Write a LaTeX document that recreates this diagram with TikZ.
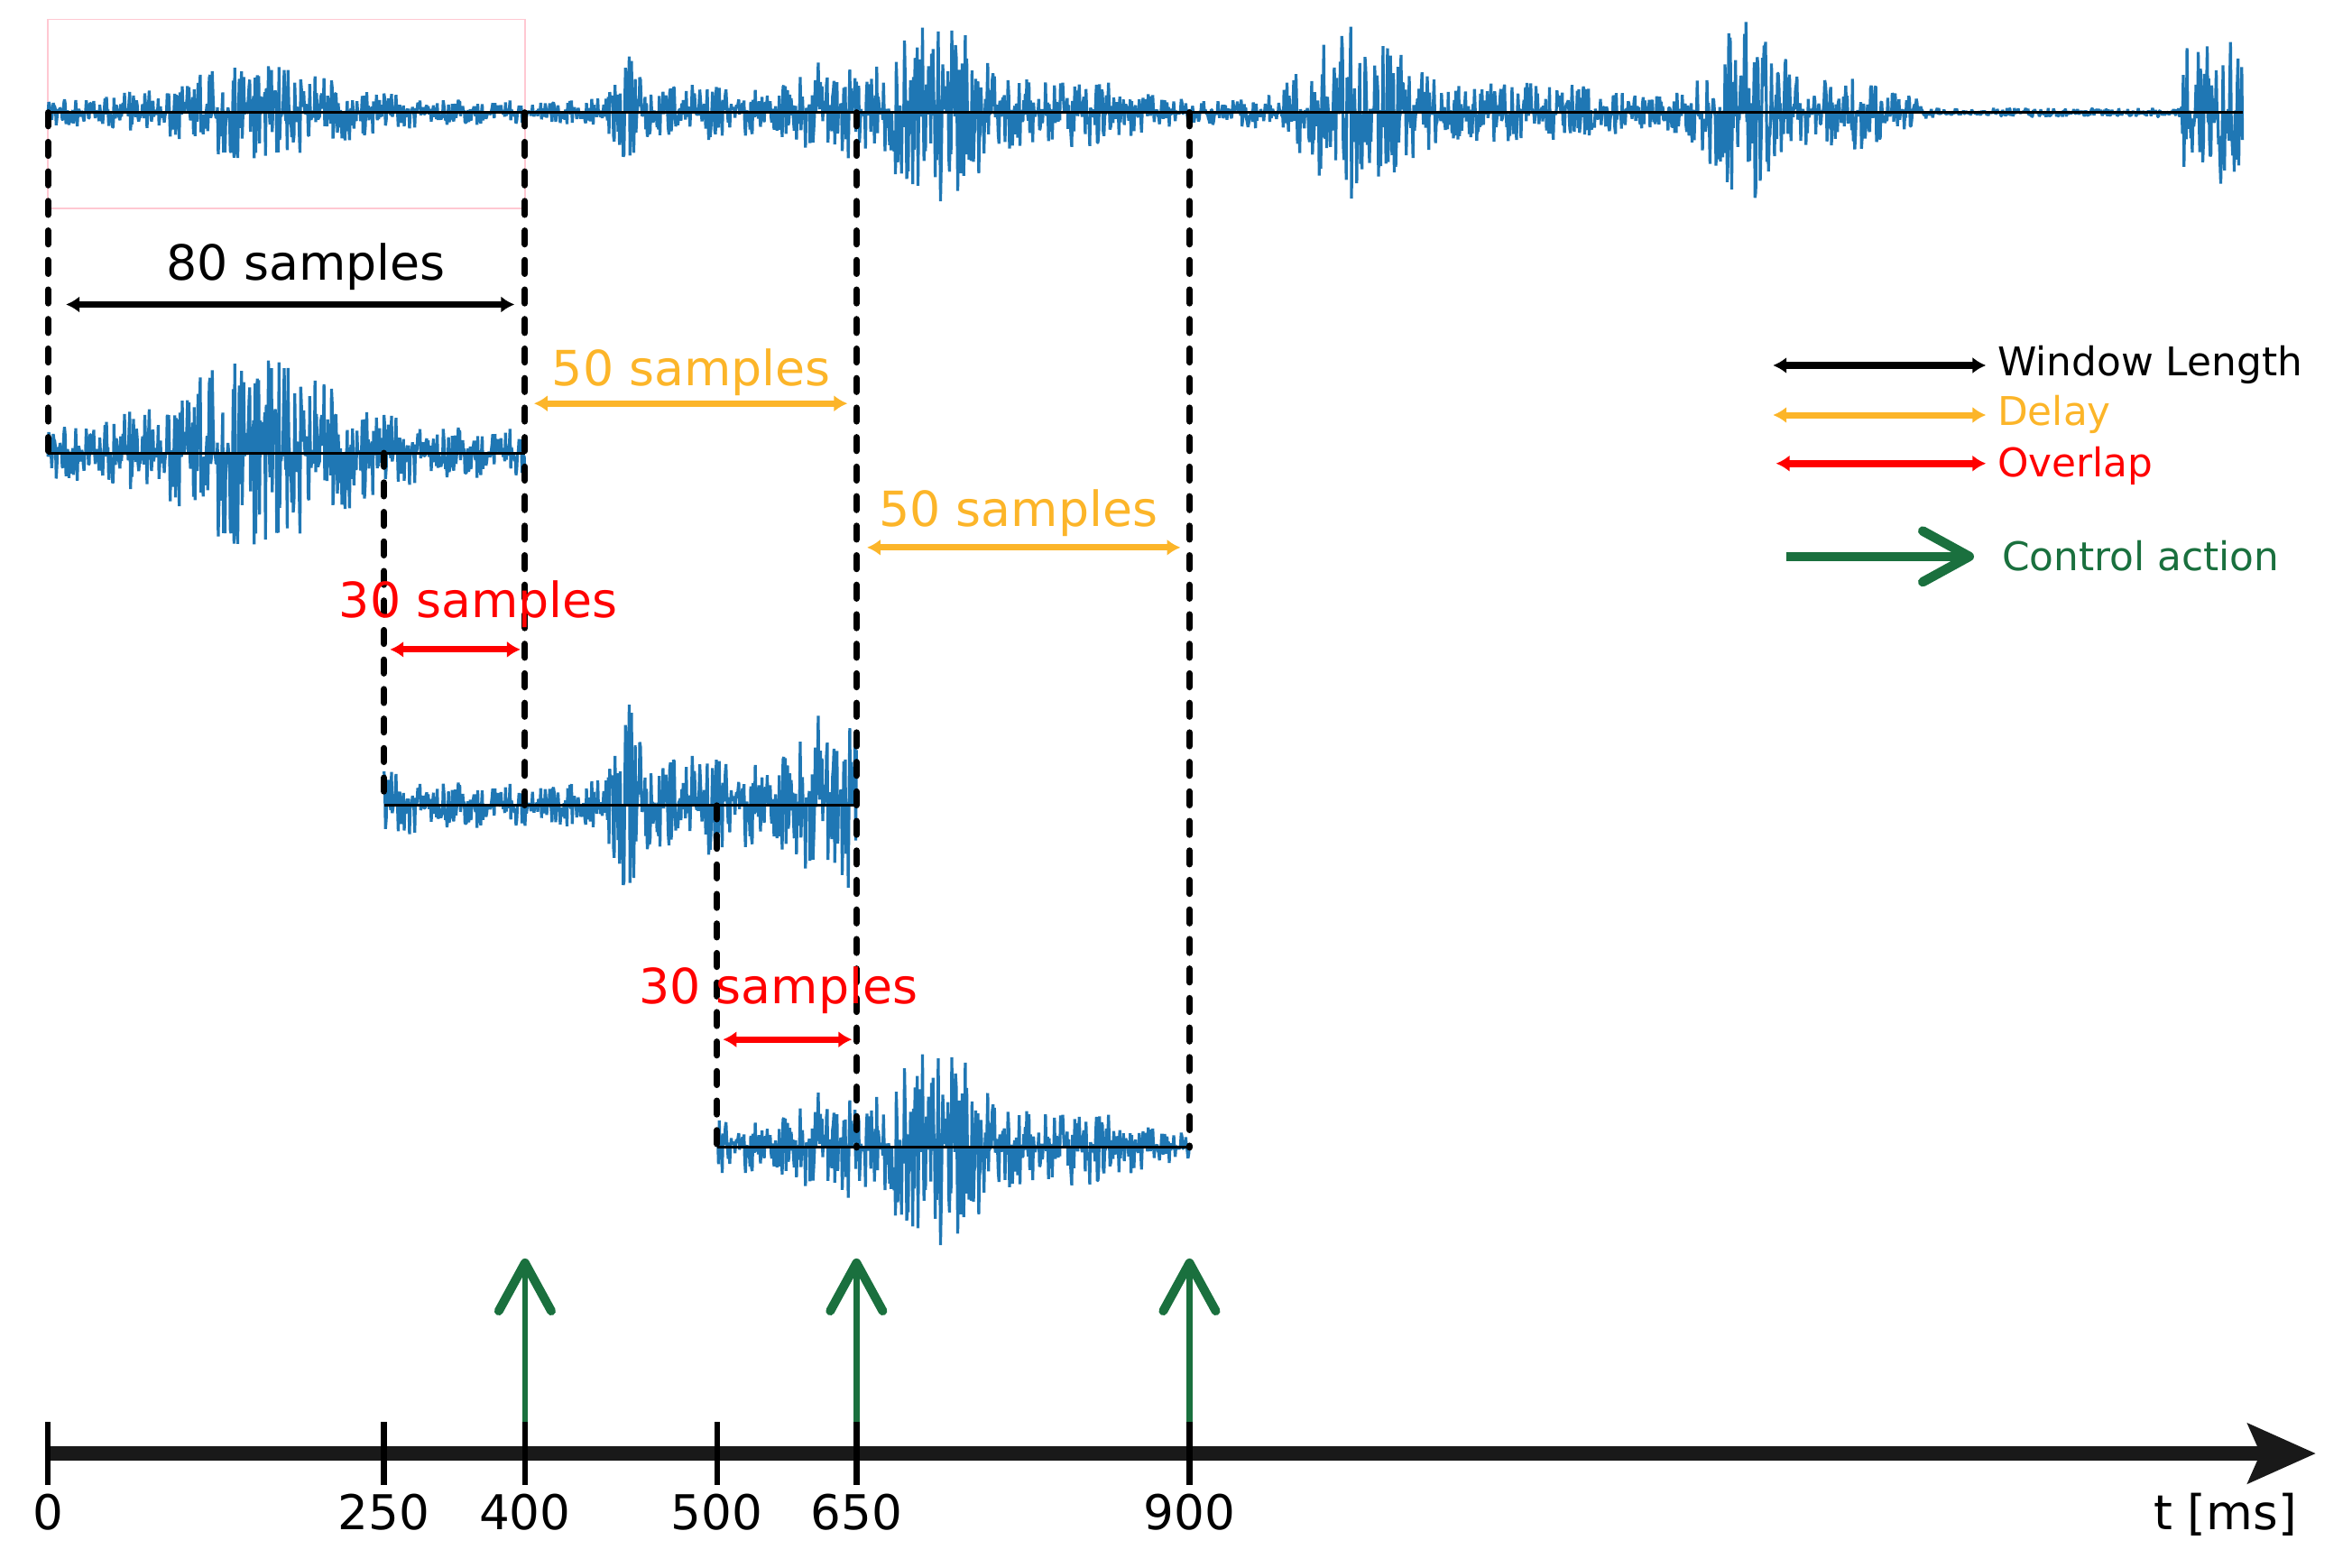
\documentclass[tikz,border=0pt]{standalone}
\usepackage{fontspec}
\setmainfont{DejaVu Sans}
\usetikzlibrary{arrows.meta}
\usetikzlibrary{positioning}

\definecolor{emgblue}{RGB}{31,119,180}
\definecolor{delayorange}{RGB}{252,181,41}
\definecolor{overlapred}{RGB}{255,0,0}
\definecolor{actiongreen}{RGB}{26,112,62}
\definecolor{framepink}{RGB}{255,200,210}

\tikzset{
	emg/.style={emgblue, line width=0.55pt, line join=bevel},
	zeroline/.style={black, line width=0.5pt},
	cut/.style={black, line width=1.2pt, line cap=round, dash pattern=on 2.6pt off 3pt},
	span/.style={<->, >={Latex[length=0.9mm,width=1.1mm]}, line width=1.2pt},
	action/.style={actiongreen, line width=1.1pt, -{Straight Barb[length=3.2mm,width=3.5mm,line width=1.7pt,round]}},
	timeaxis/.style={line width=2.8pt, black!90, -{Stealth[length=4.5mm,width=3.9mm,inset=0.8mm]}},
	axtick/.style={black, line width=1.1pt},
	lbl/.style={font=\fontsize{9.2}{11}\selectfont, anchor=base, inner sep=0pt},
	ticklbl/.style={font=\fontsize{9.1}{11}\selectfont, anchor=base, inner sep=0pt},
	leg/.style={font=\fontsize{7.5}{9}\selectfont, anchor=base west, inner sep=0pt},
}

% one EMG trace: first sample, last sample, zero line, gain
\newcommand{\emgtrace}[4]{%
	\draw[emg] plot[samples at={#1,...,#2}] ({\x/2},{#3+#4*emgenv(\x/2)*spiky(emgr(\x))});
}

\begin{document}
\begin{tikzpicture}[x=0.1mm, y=-0.1mm,
	declare function={
		bump(\t,\c,\w) = exp(-(((\t-\c)/\w)^2));
		emgenv(\t) = 8 - 5*(\t>1280)*(\t<1452) + 40*(\t>1454)
			+ 24*bump(\t,170,70) + 32*bump(\t,418,10) + 11*bump(\t,470,50) + 24*bump(\t,550,25)
			+ 54*bump(\t,625,40) + 15*bump(\t,720,45) + 52*bump(\t,905,40) + 13*bump(\t,1020,70)
			+ 54*bump(\t,1165,30) + 17*bump(\t,1235,30);
		emgr(\k) = 2*frac(abs(sin(\k*5.1373))*3758.5453)-1;
		spiky(\r) = \r*abs(\r);
	}]
	\useasboundingbox (0,0) rectangle (1568,1045);

	% time marks
	\foreach \n/\px in {0/32, 250/256, 400/350, 500/478, 650/571, 900/793} {
		\coordinate (s\n) at (\px,75);
		\coordinate (a\n) at (\px,969);
	}
	\coordinate (w1l) at (32,302);
	\coordinate (w1r) at (350,302);
	\coordinate (w2l) at (256,537);
	\coordinate (w2r) at (571,537);
	\coordinate (w3l) at (478,765);
	\coordinate (w3r) at (793,765);
	\coordinate (send) at (1495,75);

	% full recording
	\draw[framepink, line width=0.3pt] (32,13) rectangle (350,139);
	\emgtrace{64}{2990}{75}{1}
	\draw[zeroline] (s0) -- (send);

	% windows
	\emgtrace{64}{700}{302}{2}
	\draw[zeroline] (w1l) -- (w1r);
	\emgtrace{512}{1142}{537}{1.8}
	\draw[zeroline] (w2l) -- (w2r);
	\emgtrace{956}{1586}{765}{1.1}
	\draw[zeroline] (w3l) -- (w3r);

	\path[cut]
	(s0)	edge	(w1l)
	(s400)	edge	(s400 |- w2l)
	(s250 |- w1l)	edge	(w2l)
	(s650)	edge	(s650 |- w3l)
	(s500 |- w2l)	edge	(w3l)
	(s900)	edge	(w3r);

	% spans
	\coordinate (d1a) at (44,203);  \coordinate (d1b) at (343,203);
	\coordinate (d2a) at (356,269); \coordinate (d2b) at (565,269);
	\coordinate (d3a) at (578,365); \coordinate (d3b) at (787,365);
	\coordinate (d4a) at (260,433); \coordinate (d4b) at (347,433);
	\coordinate (d5a) at (482,693); \coordinate (d5b) at (568,693);
	\path
	(d1a)	edge[span]	(d1b)
	(d2a)	edge[span, delayorange]	(d2b)
	(d3a)	edge[span, delayorange]	(d3b)
	(d4a)	edge[span, overlapred]	(d4b)
	(d5a)	edge[span, overlapred]	(d5b);
	\node[lbl] (l80) at (204,187) {80 samples};
	\node[lbl, delayorange] (l50a) at (461,257) {50 samples};
	\node[lbl, delayorange] (l50b) at (679,351) {50 samples};
	\node[lbl, overlapred] (l30a) at (319,412) {30 samples};
	\node[lbl, overlapred] (l30b) at (519,669) {30 samples};

	% legend
	\coordinate (g1a) at (1182,243.6); \coordinate (g1b) at (1324,243.6);
	\coordinate (g2a) at (1182,276.7); \coordinate (g2b) at (1324,276.7);
	\coordinate (g3a) at (1184,309);   \coordinate (g3b) at (1324,309);
	\coordinate (g4a) at (1191,371);   \coordinate (g4b) at (1316,371);
	\path
	(g1a)	edge[span]	(g1b)
	(g2a)	edge[span, delayorange]	(g2b)
	(g3a)	edge[span, overlapred, line width=1.4pt]	(g3b);
	\draw[action, line width=1.8pt, -{Straight Barb[length=3.1mm,width=3.4mm,line width=1.8pt,round]}] (g4a) -- (g4b);
	\node[leg] (k1) at (1331,250.6) {Window Length};
	\node[leg, delayorange] (k2) at (1331,283.7) {Delay};
	\node[leg, overlapred] (k3) at (1331,318) {Overlap};
	\node[leg, actiongreen] (k4) at (1334,380.7) {Control action};

	% control actions and time axis
	\coordinate (ctop) at (0,839);
	\foreach \n in {400,650,900}
		\draw[action] (a\n) -- (a\n |- ctop);
	\coordinate (aend) at (1544,969);
	\draw[timeaxis] (31,969) -- (aend);
	\foreach \n/\px in {0/32, 250/256, 400/350, 500/478, 650/571, 900/793} {
		\draw[axtick] ([yshift=2.1mm]a\n) -- ([yshift=-2.1mm]a\n);
		\node[ticklbl] (t\n) at (\px,1019.5) {\n};
	}
	\node[ticklbl, anchor=base east] (tunit) at (1532,1019.5) {t [ms]};
\end{tikzpicture}
\end{document}
